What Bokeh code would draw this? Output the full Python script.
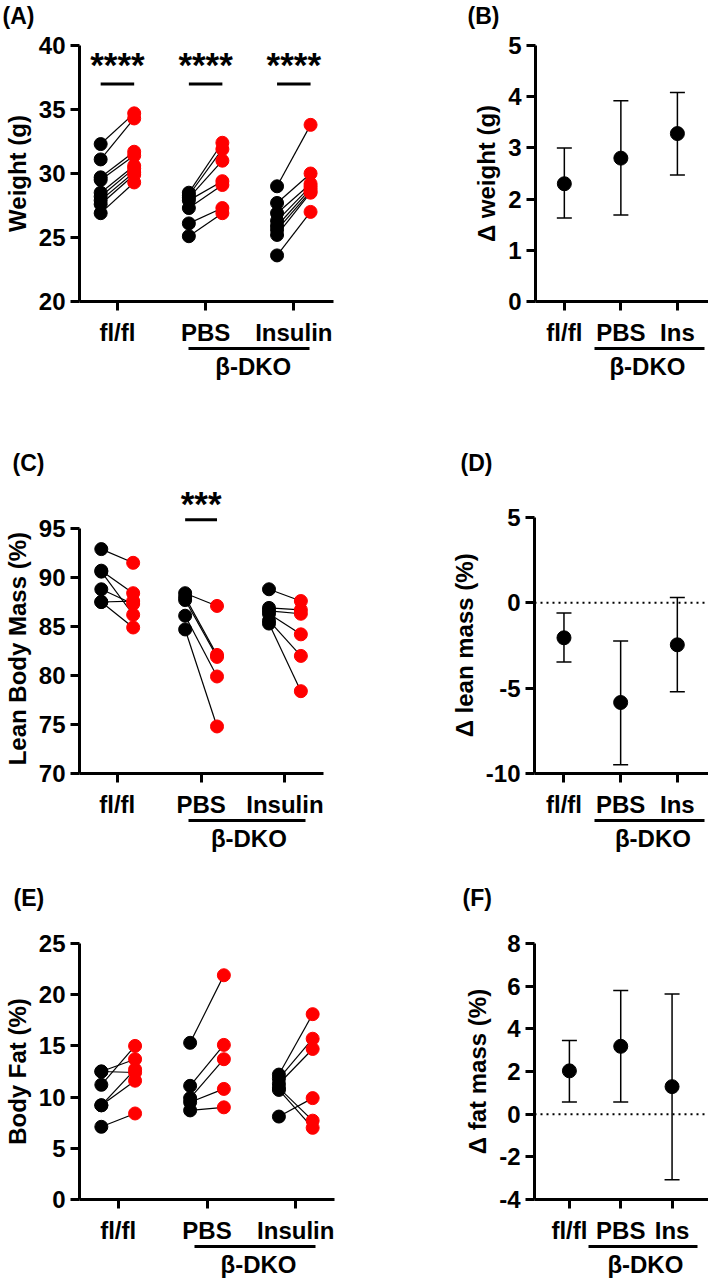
from bokeh.plotting import figure
from bokeh.layouts import column, row
from bokeh.models import (LinearAxis, FixedTicker, Whisker, TeeHead, ColumnDataSource,
                          Span, Range1d)
from bokeh.core.properties import value
from bokeh.embed import file_html
from bokeh.resources import INLINE

FONT = "Liberation Sans"

groups_long = ["fl/fl", "PBS", "Insulin"]
groups_short = ["fl/fl", "PBS", "Ins"]
bracket_label = "\u03b2-DKO"
panel_letters = ["(A)", "(B)", "(C)", "(D)", "(E)", "(F)"]

# (A) body weight, before (black) / after (red)
weight_flfl_pre = [32.3, 31.1, 29.7, 29.5, 28.5, 28.2, 27.9, 27.6, 26.9]
weight_flfl_post = [34.7, 34.3, 31.7, 31.4, 30.6, 30.4, 30.1, 29.9, 29.3]
weight_pbs_pre = [28.5, 28.3, 28.1, 27.9, 27.3, 26.1, 25.1]
weight_pbs_post = [32.4, 31.9, 31.0, 29.4, 29.1, 27.3, 26.9]
weight_ins_pre = [29.0, 27.7, 26.9, 26.3, 25.9, 25.6, 25.2, 23.6]
weight_ins_post = [33.8, 30.0, 29.2, 29.0, 28.8, 28.6, 28.5, 27.0]
sig_weight = ["****", "****", "****"]

# (B) delta weight
dweight_mean = [2.30, 2.80, 3.28]
dweight_lo = [1.63, 1.69, 2.47]
dweight_hi = [3.00, 3.92, 4.08]

# (C) lean body mass
lean_flfl_pre = [92.9, 90.7, 90.6, 88.8, 87.5, 87.5]
lean_flfl_post = [91.5, 88.4, 86.2, 87.3, 87.6, 84.9]
lean_pbs_pre = [88.4, 88.0, 87.7, 86.1, 84.7]
lean_pbs_post = [87.1, 82.1, 81.9, 79.9, 74.8]
lean_ins_pre = [88.8, 86.9, 86.6, 86.3, 85.6, 85.3]
lean_ins_post = [87.6, 86.7, 86.3, 84.2, 82.0, 78.4]
sig_lean = ["", "***", ""]

# (D) delta lean mass
dlean_mean = [-2.05, -5.84, -2.46]
dlean_lo = [-3.47, -9.49, -5.21]
dlean_hi = [-0.60, -2.23, 0.31]

# (E) body fat
fat_flfl_pre = [12.5, 12.5, 11.2, 9.2, 9.2, 7.1]
fat_flfl_post = [12.4, 13.7, 15.0, 12.7, 11.6, 8.4]
fat_pbs_pre = [15.3, 11.1, 9.9, 9.5, 8.7]
fat_pbs_post = [21.9, 15.1, 13.7, 10.8, 9.0]
fat_ins_pre = [12.2, 11.8, 11.3, 10.9, 10.7, 8.1]
fat_ins_post = [18.1, 15.7, 14.7, 7.7, 7.0, 9.9]

# (F) delta fat mass
dfat_mean = [2.03, 3.18, 1.29]
dfat_lo = [0.57, 0.57, -3.07]
dfat_hi = [3.45, 5.80, 5.63]

OFF = 0.19
NBSP = "\u00a0"


def base_fig(w, h, bl, br, bt, bb, xr, yr):
    p = figure(width=w, height=h, x_range=Range1d(*xr), y_range=Range1d(*yr),
               min_border_left=bl, min_border_right=br, min_border_top=bt,
               min_border_bottom=bb, output_backend="svg", toolbar_location=None,
               tools="")
    p.outline_line_color = None
    p.xgrid.visible = False
    p.ygrid.visible = False
    p.background_fill_color = "white"
    p.border_fill_color = "white"
    return p


def letter_band(h, xs, ys, letters):
    p = figure(width=708, height=h, x_range=Range1d(0, 708), y_range=Range1d(0, h),
               x_axis_type=None, y_axis_type=None, min_border=0,
               output_backend="svg", toolbar_location=None, tools="")
    p.outline_line_color = None
    p.background_fill_color = "white"
    p.border_fill_color = "white"
    p.text(xs, ys, text=letters, text_font=value(FONT), text_font_style="bold",
           text_font_size="23px", text_align="left", text_baseline="middle",
           text_color="black")
    return p


def style_axis(ax):
    ax.axis_line_width = 3
    ax.axis_line_color = "black"
    ax.major_tick_line_width = 3
    ax.major_tick_line_color = "black"
    ax.major_tick_out = 9
    ax.major_tick_in = 0
    ax.minor_tick_line_color = None
    ax.major_label_text_font = FONT
    ax.major_label_text_font_style = "bold"
    ax.major_label_text_font_size = "24px"
    ax.major_label_text_color = "black"
    ax.major_label_standoff = 5
    ax.axis_label_text_font = FONT
    ax.axis_label_text_font_style = "bold"
    ax.axis_label_text_font_size = "24px"
    ax.axis_label_text_color = "black"


def setup_axes(p, yticks, ylabel, xlabels, bracket, y_bounds=None, label_pad=0):
    yax = p.yaxis[0]
    style_axis(yax)
    yax.ticker = FixedTicker(ticks=yticks)
    yax.major_label_overrides = {t: str(t) for t in yticks}
    # padding keeps the label centred on the bounded part of the axis
    yax.axis_label = ylabel + NBSP * label_pad
    yax.axis_label_standoff = 5
    if y_bounds is not None:
        yax.bounds = y_bounds
    xax = p.xaxis[0]
    style_axis(xax)
    xax.ticker = FixedTicker(ticks=[0, 1, 2])
    xax.major_label_overrides = {i: lab for i, lab in enumerate(xlabels)}
    xax.major_label_standoff = 8
    b0, b1, bc = bracket
    bax = LinearAxis(bounds=(b0, b1), ticker=FixedTicker(ticks=[bc]),
                     major_label_overrides={bc: bracket_label})
    style_axis(bax)
    bax.major_tick_out = 0
    bax.major_tick_line_color = None
    bax.major_label_standoff = 4
    p.add_layout(bax, "below")


def paired(p, pres, posts):
    for g, (pre, post) in enumerate(zip(pres, posts)):
        n = len(pre)
        p.segment([g - OFF] * n, pre, [g + OFF] * n, post, line_color="black",
                  line_width=1.2)
    for g, (pre, post) in enumerate(zip(pres, posts)):
        p.scatter([g - OFF] * len(pre), pre, size=13, color="black")
        p.scatter([g + OFF] * len(post), post, size=13, color="red")


def significance(p, sigs, level, y_off):
    xs = [i for i, s in enumerate(sigs) if s]
    labels = [s for s in sigs if s]
    p.segment([x - OFF for x in xs], [level] * len(xs), [x + OFF for x in xs],
              [level] * len(xs), line_color="black", line_width=3)
    p.text(xs, [level] * len(xs), text=labels, text_font=value(FONT),
           text_font_style="bold", text_font_size="35px", text_align="center",
           text_baseline="alphabetic", y_offset=y_off, text_color="black")


def delta(p, mean, lo, hi, zero_line=False):
    if zero_line:
        p.add_layout(Span(location=0, dimension="width", line_color="black",
                          line_width=2, line_dash="2 4"))
    src = ColumnDataSource(dict(x=[0, 1, 2], m=mean, lo=lo, hi=hi))
    p.add_layout(Whisker(base="x", lower="lo", upper="hi", source=src,
                         line_width=1.5, line_color="black",
                         upper_head=TeeHead(size=15, line_width=1.5, line_color="black"),
                         lower_head=TeeHead(size=15, line_width=1.5, line_color="black")))
    p.scatter("x", "m", source=src, size=14, color="black")


# ---- letter bands
band1 = letter_band(30, [2, 467], [15, 15], panel_letters[0:2])
band2 = letter_band(60, [12, 460], [18, 18], panel_letters[2:4])
band3 = letter_band(49, [13, 462], [18, 18], panel_letters[4:6])

# ---- A
pA = base_fig(360, 390, 78, 27, 15, 119, (-0.43, 2.45), (20, 40))
paired(pA, [weight_flfl_pre, weight_pbs_pre, weight_ins_pre],
       [weight_flfl_post, weight_pbs_post, weight_ins_post])
significance(pA, sig_weight, 37.0, -19)
setup_axes(pA, [20, 25, 30, 35, 40], "Weight (g)", groups_long, (0.81, 2.18, 1.54))

# ---- B
pB = base_fig(348, 390, 175, 0, 15, 119, (-0.51, 2.55), (0, 5))
delta(pB, dweight_mean, dweight_lo, dweight_hi)
setup_axes(pB, [0, 1, 2, 3, 4, 5], "\u0394 weight (g)", groups_short, (0.53, 2.48, 1.47))

# ---- C
pC = base_fig(360, 386, 77, 37, 10, 93, (-0.45, 2.46), (70, 98.88))
paired(pC, [lean_flfl_pre, lean_pbs_pre, lean_ins_pre],
       [lean_flfl_post, lean_pbs_post, lean_ins_post])
significance(pC, sig_lean, 95.9, -16)
setup_axes(pC, [70, 75, 80, 85, 90, 95], "Lean Body Mass (%)", groups_long,
           (0.85, 2.24, 1.57), y_bounds=(70, 95), label_pad=5)

# ---- D
pD = base_fig(348, 386, 174, 0, 10, 93, (-0.52, 2.55), (-10, 6.58))
delta(pD, dlean_mean, dlean_lo, dlean_hi, zero_line=True)
setup_axes(pD, [-10, -5, 0, 5], "\u0394 lean mass (%)", groups_short,
           (0.53, 2.48, 1.57), y_bounds=(-10, 5), label_pad=4)

# ---- E
pE = base_fig(360, 365, 77, 26, 28, 80, (-0.436, 2.436), (0, 25))
paired(pE, [fat_flfl_pre, fat_pbs_pre, fat_ins_pre],
       [fat_flfl_post, fat_pbs_post, fat_ins_post])
setup_axes(pE, [0, 5, 10, 15, 20, 25], "Body Fat (%)", groups_long, (0.86, 2.22, 1.58))

# ---- F
pF = base_fig(348, 365, 174, 0, 28, 80, (-0.68, 2.71), (-4, 8))
delta(pF, dfat_mean, dfat_lo, dfat_hi, zero_line=True)
setup_axes(pF, [-4, -2, 0, 2, 4, 6, 8], "\u0394 fat mass (%)", groups_short, (0.37, 2.49, 1.48))

layout = column(band1, row(pA, pB), band2, row(pC, pD), band3, row(pE, pF))
open("out.html", "w").write(file_html(layout, INLINE))
